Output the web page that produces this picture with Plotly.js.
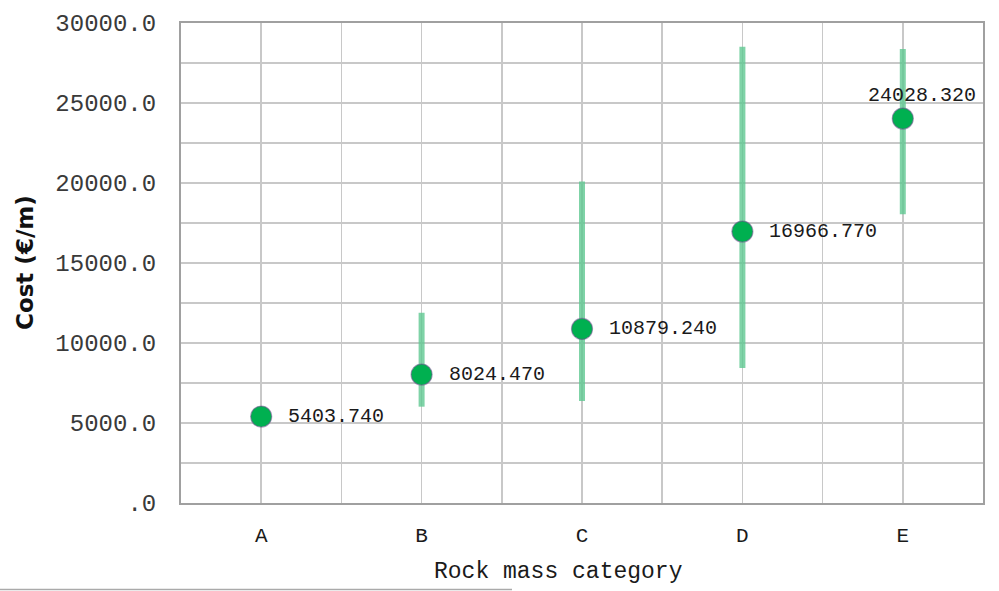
<!DOCTYPE html>
<html>
<head>
<meta charset="utf-8">
<script src="https://cdn.plot.ly/plotly-3.0.1.min.js"></script>
<style>
html,body{margin:0;padding:0;background:#fff;}
#chart{width:999px;height:591px;}
</style>
</head>
<body>
<div id="chart"></div>
<script>
// ---- data ----
const categories = ['A', 'B', 'C', 'D', 'E'];
const meanCost = [5403.74, 8024.47, 10879.24, 16966.77, 24028.32];
const upperCost = [5403.74, 11890, 20100, 28520, 28380];
const lowerCost = [5403.74, 6020, 6380, 8440, 18050];
const yTickVals = [0, 5000, 10000, 15000, 20000, 25000, 30000];
const yTickText = ['.0', '5000.0', '10000.0', '15000.0', '20000.0', '25000.0', '30000.0'];
const labelPlacement = ['right', 'right', 'right', 'right', 'above'];

const xIdx = categories.map((c, i) => i);
const plus = meanCost.map((v, i) => upperCost[i] - v);
const minus = meanCost.map((v, i) => v - lowerCost[i]);

const mono = 'Liberation Mono, Courier New, monospace';

const trace = {
  type: 'scatter',
  mode: 'markers',
  x: xIdx,
  y: meanCost,
  marker: {
    color: '#00b050',
    size: 21,
    line: {color: 'rgba(110,80,140,0.55)', width: 1.2}
  },
  error_y: {
    type: 'data',
    symmetric: false,
    array: plus,
    arrayminus: minus,
    color: 'rgba(95,200,145,0.8)',
    thickness: 6,
    width: 0
  },
  hoverinfo: 'skip',
  showlegend: false
};

const annotations = meanCost.map((v, i) => {
  const above = labelPlacement[i] === 'above';
  return {
    x: xIdx[i], y: v, xref: 'x', yref: 'y',
    text: v.toFixed(3),
    showarrow: false,
    font: {family: mono, size: 20, color: '#1a1a1a'},
    xanchor: above ? 'center' : 'left',
    yanchor: above ? 'bottom' : 'middle',
    xshift: above ? 19 : 25,
    yshift: above ? 10 : 0
  };
});

annotations.push({
  xref: 'paper', yref: 'paper',
  x: (558 - 181) / 802, y: (503 - 572) / 480,
  xanchor: 'center', yanchor: 'middle',
  text: 'Rock mass category', showarrow: false,
  font: {family: mono, size: 23, color: '#1a1a1a'}
});
annotations.push({
  xref: 'paper', yref: 'paper',
  x: (25 - 181) / 802, y: 0.5,
  xanchor: 'center', yanchor: 'middle',
  textangle: -90,
  text: '<b>Cost (€/m)</b>', showarrow: false,
  font: {family: 'DejaVu Sans, Verdana, sans-serif', size: 23, color: '#111'}
});

const layout = {
  width: 999, height: 591,
  margin: {l: 181, r: 16, t: 23, b: 88},
  paper_bgcolor: '#ffffff',
  plot_bgcolor: '#ffffff',
  xaxis: {
    range: [-0.5, 4.5],
    tickmode: 'array',
    tickvals: xIdx,
    ticktext: categories,
    showgrid: true,
    gridcolor: '#c8c8c8',
    gridwidth: 1.5,
    minor: {tickmode: 'linear', tick0: -0.5, dtick: 1, showgrid: true, gridcolor: '#c8c8c8', gridwidth: 1.5},
    showline: true, linecolor: '#a0a0a0', linewidth: 2, mirror: true,
    zeroline: false,
    ticks: '',
    ticklabelstandoff: 12,
    tickfont: {family: mono, size: 21, color: '#1a1a1a'},
    fixedrange: true
  },
  yaxis: {
    range: [0, 30000],
    tickmode: 'array',
    tickvals: yTickVals,
    ticktext: yTickText,
    showgrid: true,
    gridcolor: '#c8c8c8',
    gridwidth: 1.5,
    minor: {tickmode: 'linear', tick0: 0, dtick: 2500, showgrid: true, gridcolor: '#c8c8c8', gridwidth: 1.5},
    showline: true, linecolor: '#a0a0a0', linewidth: 2, mirror: true,
    zeroline: false,
    ticks: '',
    ticklabelstandoff: 18,
    tickfont: {family: mono, size: 24, color: '#3a3a3a'},
    fixedrange: true
  },
  shapes: [{
    type: 'line', xref: 'paper', yref: 'paper',
    x0: (0 - 181) / 802, x1: (512 - 181) / 802,
    y0: (503 - 589.5) / 480, y1: (503 - 589.5) / 480,
    line: {color: '#aaaaaa', width: 1.5}
  }],
  annotations: annotations
};

Plotly.newPlot('chart', [trace], layout, {displayModeBar: false, staticPlot: true});
</script>
</body>
</html>
